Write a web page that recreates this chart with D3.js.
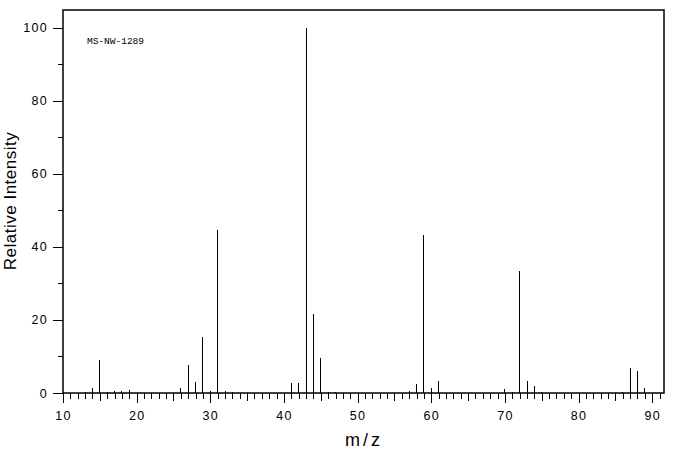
<!DOCTYPE html>
<html>
<head>
<meta charset="utf-8">
<script src="https://cdn.jsdelivr.net/npm/d3@7"></script>
<style>
  body { margin: 0; background: white; }
  svg { display: block; }
</style>
</head>
<body>
<div id="chart"></div>
<script>
// peak list: m/z and relative intensity
var mz = [13, 14, 15, 16, 17, 18, 19, 26, 27, 28, 29, 30, 31, 32, 33,
          41, 42, 43, 44, 45, 46, 47, 57, 58, 59, 60, 61,
          70, 71, 72, 73, 74, 75, 86, 87, 88, 89];
var intensity = [0.3, 1.4, 9.0, 0.4, 0.5, 0.6, 0.9, 1.4, 7.7, 3.0, 15.3, 0.6, 44.5, 0.5, 0.3,
                 2.7, 2.7, 100, 21.6, 9.6, 0.3, 0.3, 0.6, 2.5, 43.2, 1.4, 3.3,
                 1.1, 0.3, 33.3, 3.3, 1.9, 0.3, 0.4, 6.8, 6.0, 1.4];

var xMajor = [10, 20, 30, 40, 50, 60, 70, 80, 90];
var xMid = [15, 25, 35, 45, 55, 65, 75, 85];
var yMajor = [0, 20, 40, 60, 80, 100];
var yMinor = [10, 30, 50, 70, 90];

var svgWidth = 676, svgHeight = 455;
var plotLeft = 63, plotRight = 664, plotTop = 10, plotBottom = 393;

var svg = d3.select('#chart').append('svg')
    .attr('width', svgWidth)
    .attr('height', svgHeight)
    .style('background', 'white');

var x = d3.scaleLinear().domain([10, 91.6]).range([plotLeft, plotRight]);
var y = d3.scaleLinear().domain([0, 104.8]).range([plotBottom, plotTop]);

var tickFont = '"Liberation Sans", Arial, sans-serif';

function styleLabels(g) {
    g.select('.domain').remove();
    g.selectAll('text')
        .attr('font-family', tickFont)
        .attr('font-size', '12.5px')
        .attr('letter-spacing', '1.3px')
        .attr('fill', 'black');
}

// x axis: minor ticks every unit
svg.append('g')
    .attr('transform', 'translate(0,' + plotBottom + ')')
    .call(d3.axisBottom(x).tickValues(d3.range(11, 92)).tickSize(6).tickFormat(''))
    .call(function(g) { g.select('.domain').remove(); });

// mid ticks at the fives
svg.append('g')
    .attr('transform', 'translate(0,' + plotBottom + ')')
    .call(d3.axisBottom(x).tickValues(xMid).tickSize(8).tickFormat(''))
    .call(function(g) { g.select('.domain').remove(); });

// major ticks with labels
svg.append('g')
    .attr('transform', 'translate(0,' + plotBottom + ')')
    .call(d3.axisBottom(x).tickValues(xMajor).tickSize(10).tickPadding(8.5))
    .call(styleLabels);

// y axis
svg.append('g')
    .attr('transform', 'translate(' + plotLeft + ',0)')
    .call(d3.axisLeft(y).tickValues(yMinor).tickSize(5).tickFormat(''))
    .call(function(g) { g.select('.domain').remove(); });

svg.append('g')
    .attr('transform', 'translate(' + plotLeft + ',0)')
    .call(d3.axisLeft(y).tickValues(yMajor).tickSize(10).tickPadding(5))
    .call(styleLabels);

svg.selectAll('.tick line').attr('stroke', 'black').attr('shape-rendering', 'crispEdges');

// peaks
svg.append('g').selectAll('line')
    .data(mz)
    .enter().append('line')
    .attr('x1', function(d) { return x(d); })
    .attr('x2', function(d) { return x(d); })
    .attr('y1', y(0))
    .attr('y2', function(d, i) { return y(intensity[i]); })
    .attr('stroke', 'black')
    .attr('stroke-width', 1)
    .attr('shape-rendering', 'crispEdges');

// frame
svg.append('rect')
    .attr('x', plotLeft).attr('y', plotTop)
    .attr('width', plotRight - plotLeft).attr('height', plotBottom - plotTop)
    .attr('fill', 'none')
    .attr('stroke', 'black')
    .attr('stroke-width', 1.5);

// sample label
svg.append('text')
    .text('MS-NW-1289')
    .attr('x', 87).attr('y', 44)
    .attr('font-family', '"Liberation Mono", "DejaVu Sans Mono", monospace')
    .attr('font-size', '9.5px')
    .attr('fill', 'black');

// axis titles
svg.append('text')
    .text('m/z')
    .attr('x', 364).attr('y', 446)
    .attr('text-anchor', 'middle')
    .attr('font-family', tickFont)
    .attr('font-size', '18px')
    .attr('letter-spacing', '3px')
    .attr('fill', 'black');

svg.append('text')
    .text('Relative Intensity')
    .attr('transform', 'translate(16,201) rotate(-90)')
    .attr('text-anchor', 'middle')
    .attr('font-family', tickFont)
    .attr('font-size', '17px')
    .attr('letter-spacing', '0.5px')
    .attr('fill', 'black');
</script>
</body>
</html>
